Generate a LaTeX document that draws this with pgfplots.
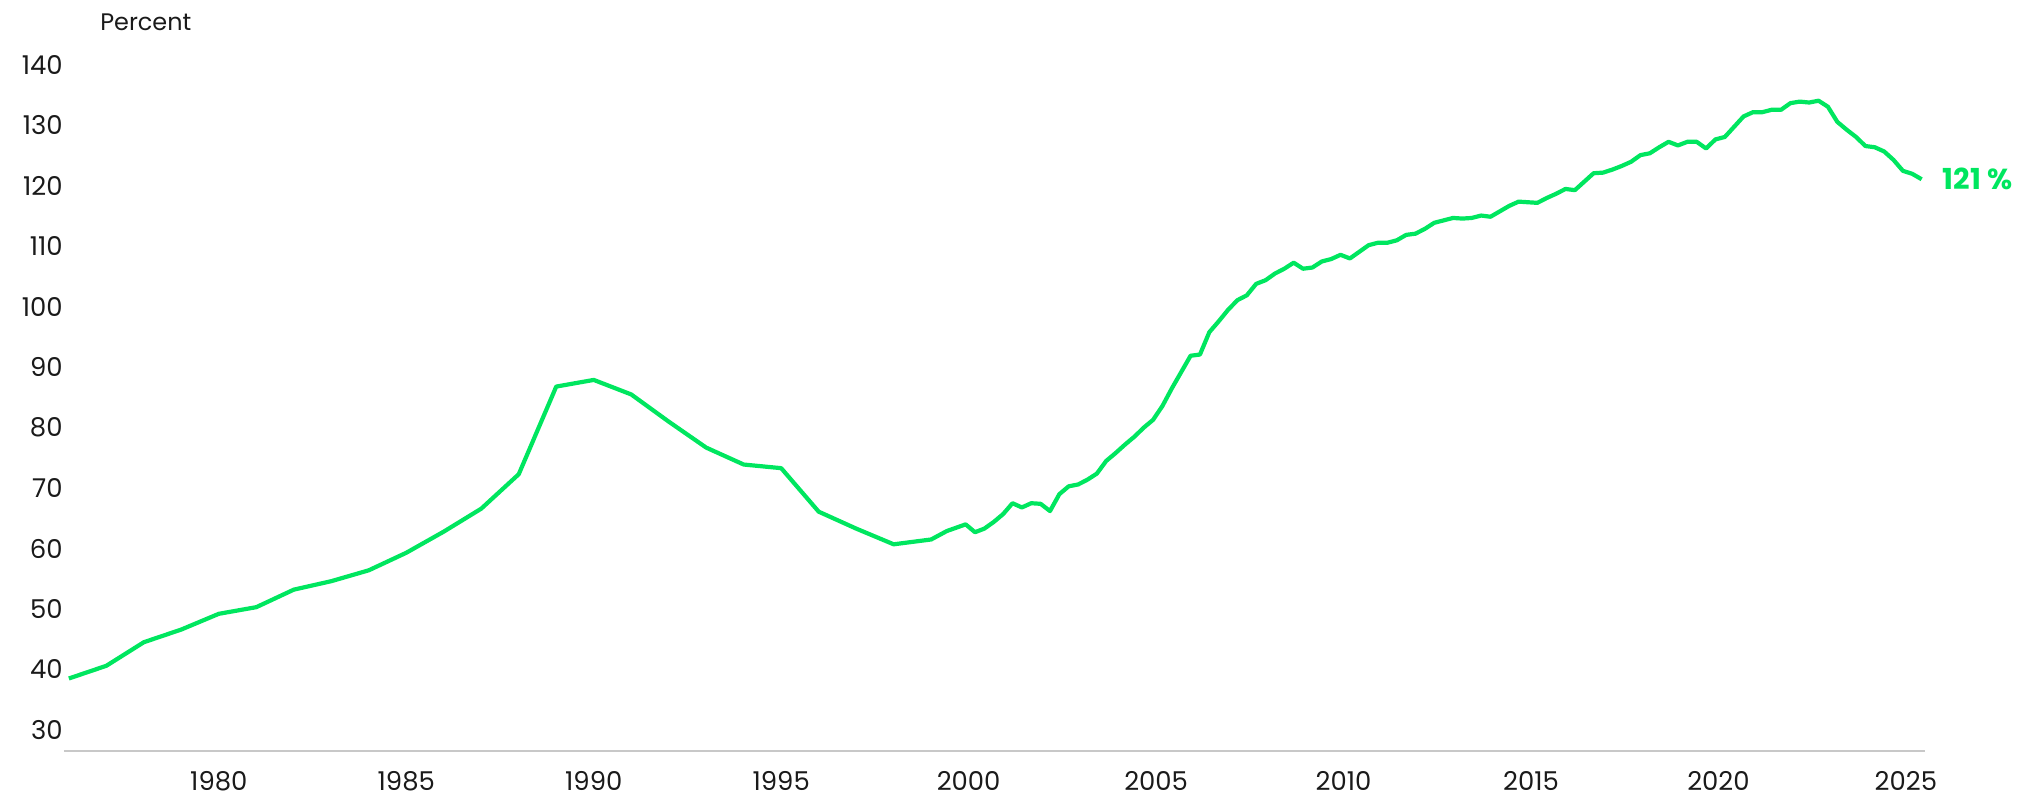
\documentclass[border=0pt]{standalone}
\usepackage{fontspec}
\setmainfont{Poppins}
\usepackage{pgfplots}
\usepackage{pgfplotstable}
\pgfplotsset{compat=1.18}

\definecolor{linegreen}{HTML}{00E65F}
\definecolor{txt}{HTML}{1A1A1A}
\definecolor{axgray}{HTML}{C8C8C8}

% annual points up to 1999, quarterly afterwards
\pgfplotstableread{
year value
1976 38.5
1977 40.6
1978 44.5
1979 46.6
1980 49.2
1981 50.3
1982 53.2
1983 54.6
1984 56.4
1985 59.3
1986 62.8
1987 66.6
1988 72.3
1989 86.8
1990 87.9
1991 85.5
1992 81.0
1993 76.7
1994 73.9
1995 73.3
1996 66.1
1997 63.3
1998 60.7
1999 61.5
1999.42 62.9
1999.92 64.0
2000.17 62.7
2000.42 63.3
2000.67 64.4
2000.92 65.7
2001.17 67.5
2001.42 66.8
2001.67 67.5
2001.92 67.4
2002.17 66.2
2002.42 69.0
2002.67 70.3
2002.92 70.6
2003.17 71.4
2003.42 72.4
2003.67 74.5
2003.92 75.8
2004.17 77.2
2004.42 78.5
2004.67 80.0
2004.92 81.3
2005.17 83.6
2005.42 86.5
2005.67 89.2
2005.92 91.9
2006.17 92.1
2006.42 95.8
2006.67 97.6
2006.92 99.5
2007.17 101.1
2007.42 101.9
2007.67 103.8
2007.92 104.4
2008.17 105.5
2008.42 106.3
2008.67 107.3
2008.92 106.3
2009.17 106.5
2009.42 107.5
2009.67 107.9
2009.92 108.6
2010.17 108.0
2010.42 109.1
2010.67 110.2
2010.92 110.6
2011.17 110.6
2011.42 111.0
2011.67 111.9
2011.92 112.1
2012.17 112.9
2012.42 113.9
2012.67 114.3
2012.92 114.7
2013.17 114.6
2013.42 114.7
2013.67 115.1
2013.92 114.9
2014.17 115.8
2014.42 116.7
2014.67 117.4
2014.92 117.3
2015.17 117.2
2015.42 118.0
2015.67 118.7
2015.92 119.5
2016.17 119.3
2016.42 120.7
2016.67 122.1
2016.92 122.2
2017.17 122.7
2017.42 123.3
2017.67 124.0
2017.92 125.1
2018.17 125.4
2018.42 126.4
2018.67 127.3
2018.92 126.7
2019.17 127.3
2019.42 127.3
2019.67 126.2
2019.92 127.7
2020.17 128.1
2020.42 129.8
2020.67 131.5
2020.92 132.2
2021.17 132.2
2021.42 132.6
2021.67 132.6
2021.92 133.7
2022.17 133.95
2022.42 133.8
2022.67 134.1
2022.92 133.1
2023.17 130.6
2023.42 129.3
2023.67 128.1
2023.92 126.6
2024.17 126.4
2024.42 125.7
2024.67 124.3
2024.92 122.5
2025.17 122.0
2025.42 121.1
}\debtdata

\begin{document}
\begin{tikzpicture}
\begin{axis}[
    at={(0,0)}, anchor=south west,
    scale only axis,
    width=930.5bp, height=347.5bp,
    xmin=1975.87, xmax=2025.51,
    ymin=26.5, ymax=141.5,
    axis x line*=bottom,
    axis y line*=left,
    x axis line style={draw=axgray, line width=1bp},
    y axis line style={draw=none},
    xtick={1980,1985,...,2025},
    ytick={30,40,...,140},
    major tick length=0pt,
    tick style={draw=none},
    /pgf/number format/assume math mode=true,
    /pgf/number format/1000 sep={},
    tick label style={font=\fontsize{13}{15}\selectfont, text=txt},
    yticklabel style={inner xsep=0pt, xshift=-0.5bp},
    xticklabel style={yshift=-6.5bp},
    clip=false,
]
\addplot[linegreen, line width=2.1bp, line join=round] table[x=year, y=value] {\debtdata};
\node[anchor=west, text=linegreen, font=\bfseries\fontsize{14.5}{16}\selectfont, xshift=7bp]
    at (axis cs:2025.42,121.1) {121~\%};
\coordinate (sw) at (rel axis cs:0,0);
\coordinate (nw) at (rel axis cs:0,1);
\end{axis}
\node[anchor=west, inner sep=0pt, text=txt, font=\fontsize{12}{14}\selectfont]
    at ([xshift=18bp,yshift=17bp]nw) {Percent};
\pgfresetboundingbox
\path[use as bounding box] (sw) ++(-32bp,-23.5bp) rectangle ++(1010.5bp,399bp);
\end{tikzpicture}
\end{document}
